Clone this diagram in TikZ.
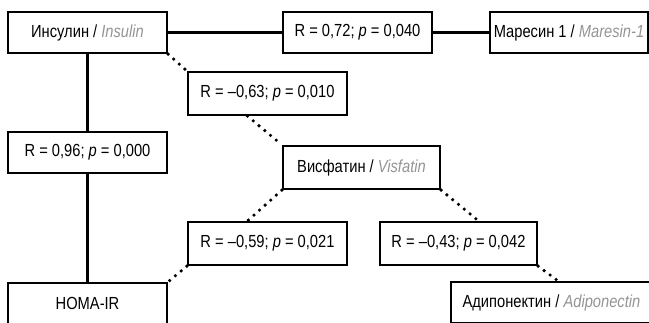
\documentclass[tikz,border=0pt]{standalone}
\usepackage{fontspec}
\setmainfont[FakeStretch=0.84]{Liberation Sans}
\definecolor{engray}{gray}{0.58}
\newcommand\engl[1]{\textcolor{engray}{\textit{#1}}}
\begin{document}
\begin{tikzpicture}[x=1pt,y=-1pt,
  box/.style={draw, line width=2.2pt, rectangle, minimum height=41pt, inner sep=0pt,
    font=\fontsize{17.5}{19}\selectfont},
  conn/.style={line width=2.2pt},
  dotconn/.style={line width=3.6pt, line cap=round, dash pattern=on 0pt off 7.5pt}]
\useasboundingbox (0,0) rectangle (649,322);
\node[box, minimum width=159pt] (ins) at (87.5,32.5) {Инсулин / \engl{Insulin}};
\node[box, minimum width=149pt] (r1) at (357.5,32.5) {R = 0,72; \textit{p} = 0,040};
\node[box, minimum width=158pt] (mar) at (569,32.5) {Маресин 1 / \engl{Maresin-1}};
\node[box, minimum width=159pt, minimum height=43pt] (r2) at (267.5,93.5) {R = –0,63; \textit{p} = 0,010};
\node[box, minimum width=159pt] (r3) at (87.5,152.5) {R = 0,96; \textit{p} = 0,000};
\node[box, minimum width=157pt, minimum height=43pt] (vis) at (361.5,167.5) {Висфатин / \engl{Visfatin}};
\node[box, minimum width=159pt, minimum height=43pt] (r4) at (267.5,243.5) {R = –0,59; \textit{p} = 0,021};
\node[box, minimum width=157pt, minimum height=43pt] (r5) at (458.5,243.5) {R = –0,43; \textit{p} = 0,042};
\node[box, minimum width=159pt] (homa) at (87.5,303.5) {HOMA-IR};
\node[box, minimum width=201pt] (adi) at (551.5,302.5) {Адипонектин / \engl{Adiponectin}};
\draw[conn] (ins) -- (r1);
\draw[conn] (r1) -- (mar);
\draw[conn] (ins) -- (r3);
\draw[conn] (r3) -- (homa);
\draw[dotconn] (ins.south east) -- (r2.north west);
\draw[dotconn] ([xshift=-20pt]r2.south) -- (vis.north west);
\draw[dotconn] (vis.south west) -- ([xshift=-20pt]r4.north);
\draw[dotconn] (r4.south west) -- (homa.north east);
\draw[dotconn] (vis.south east) -- ([xshift=20pt]r5.north);
\draw[dotconn] (r5.south east) -- ([xshift=6.5pt]adi.north);
\end{tikzpicture}
\end{document}
